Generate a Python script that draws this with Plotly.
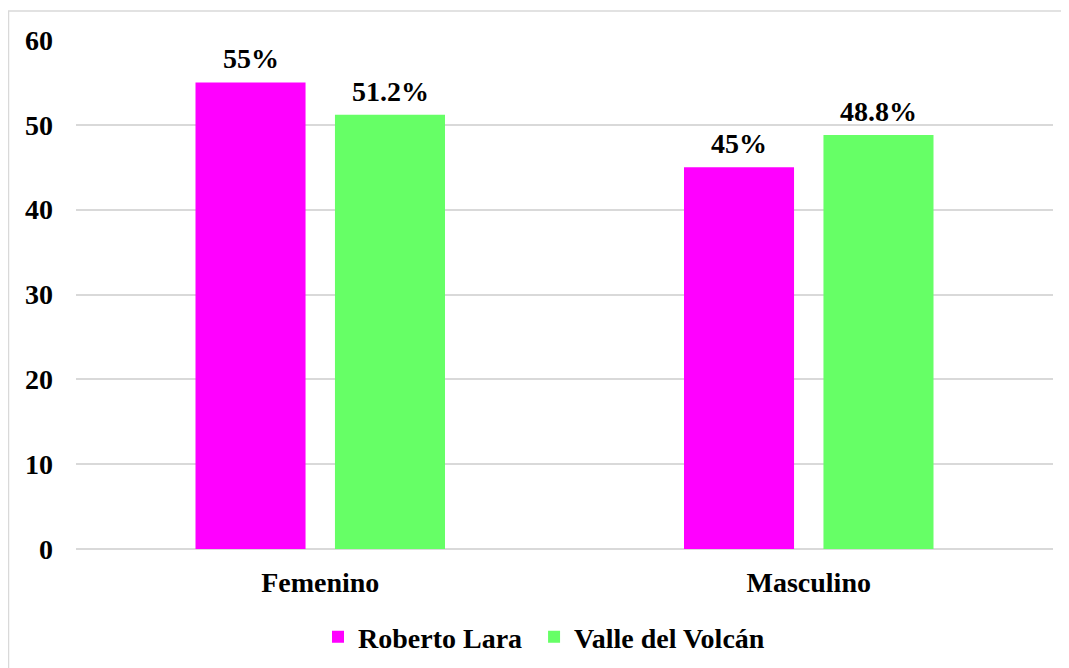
import plotly.graph_objects as go

categories = ["Femenino", "Masculino"]
roberto_lara = [55, 45]
valle_volcan = [51.2, 48.8]
roberto_labels = ["55%", "45%"]
valle_labels = ["51.2%", "48.8%"]
y_ticks = [0, 10, 20, 30, 40, 50, 60]

FONT = "Liberation Serif"
F = dict(family=FONT, size=28, color="black", weight="bold")

fig = go.Figure()
fig.add_trace(go.Bar(
    x=categories, y=roberto_lara, name="Roberto Lara\u00a0",
    marker=dict(color="#FF00FF", line=dict(width=0)),
))
fig.add_trace(go.Bar(
    x=categories, y=valle_volcan, name="Valle del Volcán",
    marker=dict(color="#66FF66", line=dict(width=0)),
))

annotations = []
for cat, v, lab in zip(categories, roberto_lara, roberto_labels):
    annotations.append(dict(x=cat, y=v, xref="x", yref="y", text=lab, showarrow=False,
                            xshift=-69.75, yanchor="bottom", yshift=6, font=F))
for cat, v, lab in zip(categories, valle_volcan, valle_labels):
    annotations.append(dict(x=cat, y=v, xref="x", yref="y", text=lab, showarrow=False,
                            xshift=69.75, yanchor="bottom", yshift=6, font=F))

fig.update_layout(
    width=1069, height=668,
    margin=dict(l=68, r=24, t=32, b=127),
    paper_bgcolor="white", plot_bgcolor="white",
    barmode="group", bargap=0.429, bargroupgap=0.211,
    font=F,
    showlegend=True,
    legend=dict(orientation="h", x=0.479, xanchor="center", y=-0.173, yanchor="middle",
                font=F, traceorder="normal"),
    annotations=annotations,
    shapes=[dict(type="rect", xref="paper", yref="paper",
                 x0=-0.0691, x1=1.05, y0=-0.30, y1=1.057,
                 line=dict(color="#D9D9D9", width=1.5), fillcolor="rgba(0,0,0,0)",
                 layer="below")],
)
fig.update_xaxes(showgrid=False, showline=False, ticks="", tickfont=F, ticklabelstandoff=14)
fig.update_yaxes(range=[0, 60], tickvals=y_ticks, showgrid=True, gridcolor="#D9D9D9",
                 gridwidth=1.5, zeroline=True, zerolinecolor="#D9D9D9", zerolinewidth=1.5,
                 showline=False, ticks="", ticklabelstandoff=22, tickfont=F)

fig.write_html("out.html")
